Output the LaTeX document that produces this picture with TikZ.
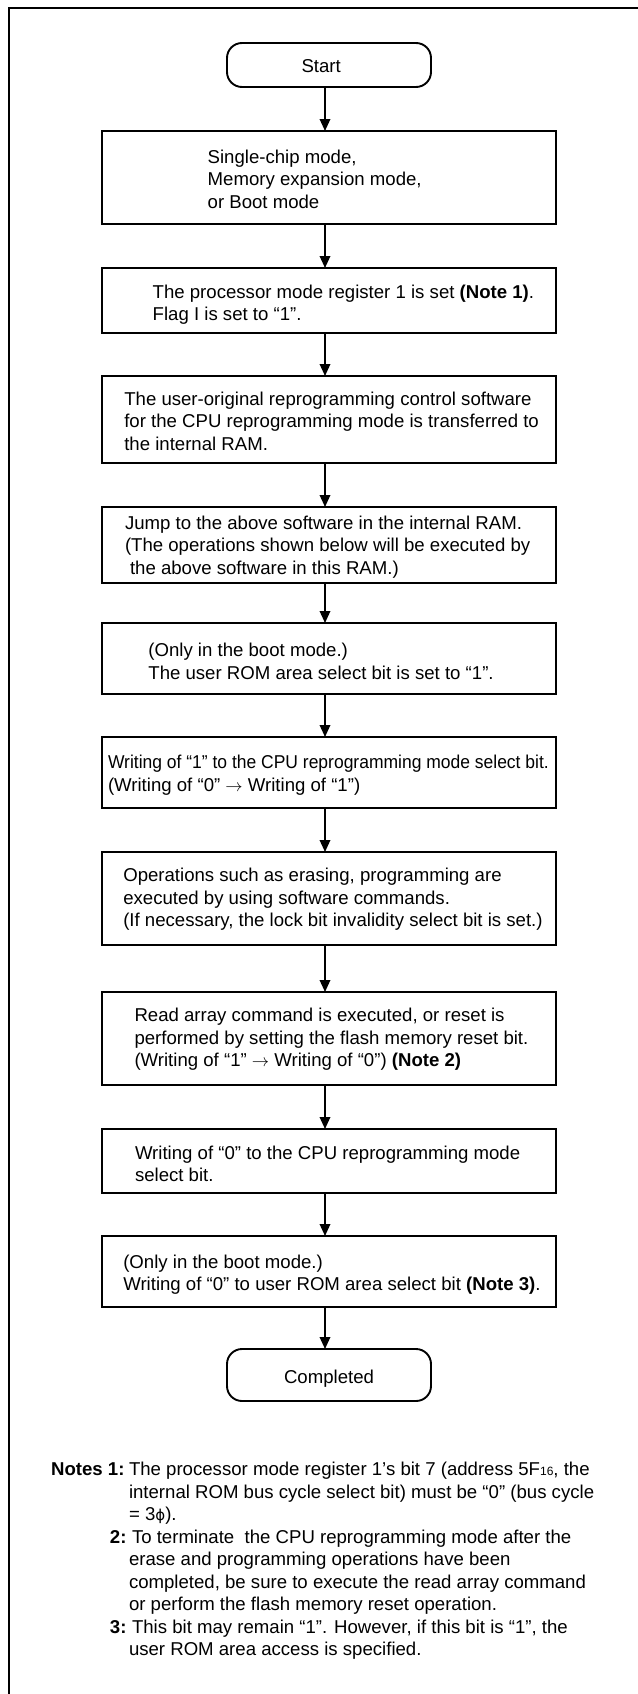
\documentclass[tikz,border=0pt]{standalone}
\usepackage{fontspec}
\setmainfont{Liberation Sans}
\newfontfamily\phifont{DejaVu Sans}
\usepackage{graphicx}
\usetikzlibrary{arrows.meta}
\begin{document}
\begin{tikzpicture}[x=1pt,y=-1pt,
  box/.style={draw, line width=1.9pt, rectangle, anchor=north, minimum width=454pt, inner sep=0pt, outer sep=0pt},
  term/.style={box, rounded corners=15pt, minimum width=204pt},
  txt/.style={anchor=base west, align=left, inner sep=0pt, outer sep=0pt, font=\fontsize{18.6}{22.5}\selectfont},
  arr/.style={line width=1.8pt, -{Triangle[length=12pt,width=10.5pt]}},
  frame/.style={line width=2.4pt}
]
\useasboundingbox (0,0) rectangle (637.3,1694);
\fill[white] (-10,-10) rectangle (660,1710);
\draw[frame] (660,7.8) -- (8.7,7.8) -- (8.7,1710);

% terminals and boxes (text nodes anchored at the baseline of their last line)
\node[term, minimum height=44pt] (start) at (329,43) {};
\node[txt] (tstart) at (301.5,73) {Start};

\node[box, minimum height=93pt] (b1) at (329,131) {};
\node[txt] (t1) at (207.7,208) {Single-chip mode,\\Memory expansion mode,\\or Boot mode};

\node[box, minimum height=65pt] (b2) at (329,268) {};
\node[txt] (t2) at (152.7,320.5) {The processor mode register 1 is set \textbf{(Note 1)}.\\Flag I is set to “1”.};

\node[box, minimum height=87pt] (b3) at (329,376) {};
\node[txt] (t3) at (124.3,450) {The user-original reprogramming control software\\for the CPU reprogramming mode is transferred to\\the internal RAM.};

\node[box, minimum height=76pt] (b4) at (329,507) {};
\node[txt] (t4) at (125,574) {Jump to the above software in the internal RAM.\\(The operations shown below will be executed by\\\hspace*{5pt}the above software in this RAM.)};

\node[box, minimum height=71pt] (b5) at (329,623) {};
\node[txt] (t5) at (148.4,679) {(Only in the boot mode.)\\The user ROM area select bit is set to “1”.};

\node[box, minimum height=71pt] (b6) at (329,737) {};
\node[txt] (t6) at (108,791) {\scalebox{0.94}[1]{Writing of “1” to the CPU reprogramming mode select bit.}\\(Writing of “0” $\rightarrow$ Writing of “1”)};

\node[box, minimum height=93pt] (b7) at (329,852) {};
\node[txt] (t7) at (123.3,926.5) {Operations such as erasing, programming are\\executed by using software commands.\\(If necessary, the lock bit invalidity select bit is set.)};

\node[box, minimum height=93pt] (b8) at (329,992) {};
\node[txt] (t8) at (134.5,1066.5) {Read array command is executed, or reset is\\performed by setting the flash memory reset bit.\\(Writing of “1” $\rightarrow$ Writing of “0”) \textbf{(Note 2)}};

\node[box, minimum height=64pt] (b9) at (329,1129) {};
\node[txt] (t9) at (135,1181.5) {Writing of “0” to the CPU reprogramming mode\\select bit.};

\node[box, minimum height=71pt] (b10) at (329,1236) {};
\node[txt] (t10) at (123.3,1290.5) {(Only in the boot mode.)\\Writing of “0” to user ROM area select bit \textbf{(Note 3)}.};

\node[term, minimum height=52pt] (done) at (329,1349) {};
\node[txt, anchor=base] (tdone) at (329,1383.5) {Completed};

% connectors
\draw[arr] ([xshift=-4pt]start.south) -- ([xshift=-4pt]b1.north);
\draw[arr] ([xshift=-4pt]b1.south) -- ([xshift=-4pt]b2.north);
\draw[arr] ([xshift=-4pt]b2.south) -- ([xshift=-4pt]b3.north);
\draw[arr] ([xshift=-4pt]b3.south) -- ([xshift=-4pt]b4.north);
\draw[arr] ([xshift=-4pt]b4.south) -- ([xshift=-4pt]b5.north);
\draw[arr] ([xshift=-4pt]b5.south) -- ([xshift=-4pt]b6.north);
\draw[arr] ([xshift=-4pt]b6.south) -- ([xshift=-4pt]b7.north);
\draw[arr] ([xshift=-4pt]b7.south) -- ([xshift=-4pt]b8.north);
\draw[arr] ([xshift=-4pt]b8.south) -- ([xshift=-4pt]b9.north);
\draw[arr] ([xshift=-4pt]b9.south) -- ([xshift=-4pt]b10.north);
\draw[arr] ([xshift=-4pt]b10.south) -- ([xshift=-4pt]done.north);

% notes
\node[txt, anchor=base east] (n1) at (124.5,1475.5) {\textbf{Notes 1:}};
\node[txt] (n1t) at (129,1520.5) {The processor mode register 1’s bit 7 (address 5F{\fontsize{12}{12}\selectfont 16}, the\\internal ROM bus cycle select bit) must be “0” (bus cycle\\= 3{\phifont\fontsize{15}{15}\selectfont ϕ}).};
\node[txt, anchor=base east] (n2) at (126.5,1543) {\textbf{2:}};
\node[txt] (n2t) at (129,1610.5) {\hspace*{3pt}To terminate\ \ the CPU reprogramming mode after the\\erase and programming operations have been\\completed, be sure to execute the read array command\\or perform the flash memory reset operation.};
\node[txt, anchor=base east] (n3) at (126.5,1633) {\textbf{3:}};
\node[txt] (n3t) at (129,1655.5) {\hspace*{3pt}This bit may remain “1”. However, if this bit is “1”, the\\user ROM area access is specified.};
\end{tikzpicture}
\end{document}
